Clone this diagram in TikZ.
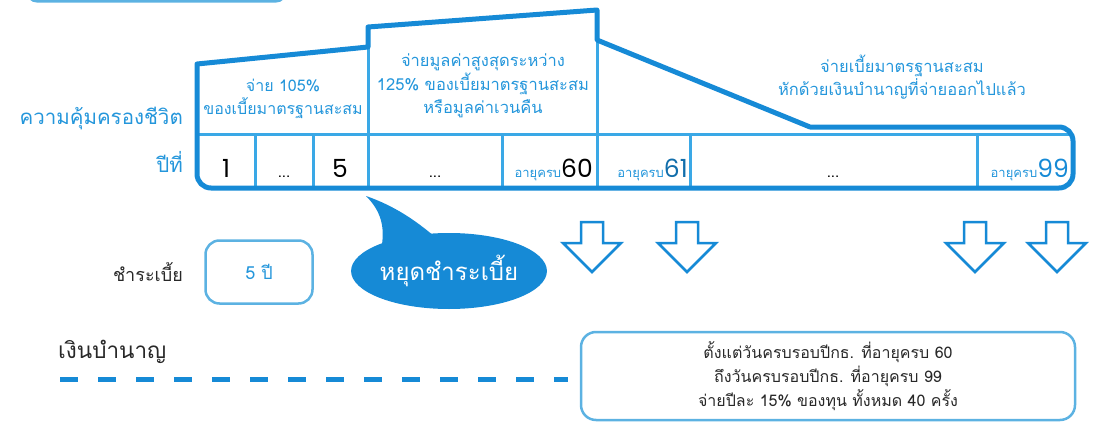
\documentclass[tikz,border=0pt]{standalone}
\usepackage{fontspec}
\usetikzlibrary{shapes.geometric}
\setmainfont[Script=Thai]{Loma}
\newfontfamily\digitfont{Poppins}
\definecolor{mainblue}{RGB}{22,138,214}
\definecolor{lineblue}{RGB}{58,168,230}
\definecolor{textblue}{RGB}{36,150,219}
\definecolor{boxblue}{RGB}{92,178,226}
\definecolor{darktext}{RGB}{40,40,40}
\newcommand{\fs}[2]{\fontsize{#1}{#2}\selectfont}
\begin{document}
\begin{tikzpicture}[x=1pt,y=-1pt,
  thickline/.style={draw=mainblue,line width=5pt,line join=round},
  innerline/.style={draw=lineblue,line width=3pt},
  boxline/.style={draw=boxblue,line width=2.5pt},
  bluelbl/.style={inner sep=0pt,text=textblue,font=\fs{20.5}{24}},
  seclbl/.style={inner sep=0pt,text=textblue,align=center,font=\fs{16.5}{23.5}},
  numlbl/.style={inner sep=0pt,anchor=base,text=black,font=\digitfont\fs{25}{28}},
  dotlbl/.style={inner sep=0pt,anchor=base,text=black,font=\fs{15}{16}},
  agelbl/.style={inner sep=0pt,anchor=base east},
  downarrow/.style={draw=mainblue,line width=2.5pt,line join=miter},
  darklbl/.style={inner sep=0pt,text=darktext},
  dashline/.style={draw=mainblue,line width=5pt,dash pattern=on 18pt off 20pt}]
\useasboundingbox (0,0) rectangle (1095,428);
% clipped box at top left
\begin{scope}
\clip (0,0) rectangle (1095,428);
\draw[boxline,rounded corners=12] (26,-40) rectangle (287,1.5);
\end{scope}
% inner grid lines
\draw[innerline] (197,134) -- (1073,134);
\foreach \x/\t in {255/134,313/134,368/47,502/134,597/40,690/134,977/134}
  \draw[innerline] (\x,\t) -- (\x,188);
% outline of coverage profile
\draw[thickline] (197,120) -- (197,64) -- (368,47) -- (368,27) -- (597,10) -- (597,40)
  -- (810,127) [rounded corners=14] -- (1073,127) -- (1073,188) -- (197,188) -- cycle;
% row labels
\node[bluelbl,anchor=east] (cov) at (183,118) {ความคุ้มครองชีวิต};
\node[bluelbl,anchor=east] (yr) at (183,162) {ปีที่};
% section texts
\node[seclbl,font=\fs{16}{23.5}] (s1) at (283,99) {จ่าย 105\%\\ของเบี้ยมาตรฐานสะสม};
\node[seclbl] (s2) at (483,86) {จ่ายมูลค่าสูงสุดระหว่าง\\125\% ของเบี้ยมาตรฐานสะสม\\หรือมูลค่าเวนคืน};
\node[seclbl] (s3) at (902,77) {จ่ายเบี้ยมาตรฐานสะสม\\หักด้วยเงินบำนาญที่จ่ายออกไปแล้ว};
% year cells
\node[numlbl] (c1) at (226,177) {1};
\node[dotlbl] (c2) at (284,177) {...};
\node[numlbl] (c3) at (340,177) {5};
\node[dotlbl] (c4) at (435,177) {...};
\node[agelbl] (c5) at (593,177) {{\color{textblue}\fs{13}{14}อายุครบ}{\digitfont\fs{25}{28}\color{black}60}};
\node[agelbl] (c6) at (688,177) {{\color{textblue}\fs{13}{14}อายุครบ}{\digitfont\fs{25}{28}\color{mainblue!80!black}61}};
\node[dotlbl] (c7) at (833,177) {...};
\node[agelbl] (c8) at (1069,177) {{\color{textblue}\fs{13}{14}อายุครบ}{\digitfont\fs{25}{28}\color{mainblue}99}};
% down arrows
\foreach \x/\n in {592/a1,687/a2,975/a3,1057/a4}
  \draw[downarrow] (\x-11,222) -- (\x+11,222) -- (\x+11,243) -- (\x+29,243)
    -- (\x,272) -- (\x-29,243) -- (\x-11,243) -- cycle;
% premium row
\node[darklbl,anchor=east,font=\fs{18}{20}] (pay) at (183,272) {ชำระเบี้ย};
\node[boxline,rounded corners=14,minimum width=107pt,minimum height=63pt,
      text=textblue,font=\fs{18}{20}] (five) at (259,272) {5 ปี};
% speech bubble
\fill[mainblue] (381,250) .. controls (386,226) and (380,210) .. (366,196)
  .. controls (395,206) and (416,221) .. (434,236) -- cycle;
\node[ellipse,fill=mainblue,minimum width=184pt,minimum height=76pt,inner sep=0pt,
      text=white,font=\fs{24}{28}] (stop) at (449,271) {หยุดชำระเบี้ย};
% pension
\node[darklbl,anchor=west,font=\fs{22.5}{26}] (pen) at (58,352) {เงินบำนาญ};
\node[boxline,rounded corners=15,minimum width=494pt,minimum height=88pt,
      darklbl,align=center,font=\fs{16}{24}] (info) at (828,376)
  {ตั้งแต่วันครบรอบปีกธ. ที่อายุครบ 60\\ถึงวันครบรอบปีกธ. ที่อายุครบ 99\\จ่ายปีละ 15\% ของทุน ทั้งหมด 40 ครั้ง};
\coordinate (dashstart) at (60,379);
\coordinate (dashend) at (568,379);
\draw[dashline] (dashstart) -- (dashend);
\end{tikzpicture}
\end{document}
